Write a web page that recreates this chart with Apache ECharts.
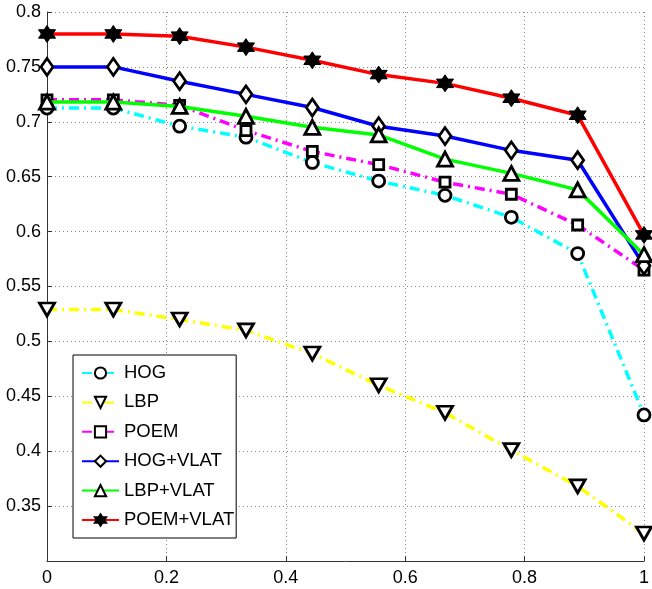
<!DOCTYPE html>
<html><head><meta charset="utf-8">
<script src="https://cdn.jsdelivr.net/npm/echarts@6/dist/echarts.min.js"></script>
<style>html,body{margin:0;padding:0;background:#fff}#c{width:652px;height:589px}</style>
</head><body><div id="c"></div>
<script>
const xValues = [0, 0.1111, 0.2222, 0.3333, 0.4444, 0.5556, 0.6667, 0.7778, 0.8889, 1];
const seriesNames = ['HOG', 'LBP', 'POEM', 'HOG+VLAT', 'LBP+VLAT', 'POEM+VLAT'];
const hog      = [0.7125, 0.7125, 0.696, 0.686, 0.663, 0.646, 0.633, 0.613, 0.580, 0.433];
const lbp      = [0.529, 0.529, 0.520, 0.510, 0.489, 0.460, 0.435, 0.401, 0.368, 0.325];
const poem     = [0.720, 0.720, 0.715, 0.692, 0.673, 0.661, 0.645, 0.634, 0.606, 0.565];
const hogVlat  = [0.750, 0.750, 0.737, 0.725, 0.713, 0.696, 0.687, 0.674, 0.665, 0.569];
const lbpVlat  = [0.718, 0.718, 0.714, 0.705, 0.695, 0.688, 0.666, 0.653, 0.638, 0.579];
const poemVlat = [0.780, 0.780, 0.778, 0.768, 0.756, 0.743, 0.735, 0.7215, 0.706, 0.597];
const xTicks = [0, 0.2, 0.4, 0.6, 0.8, 1];
const yTickLabels = ['0.35', '0.4', '0.45', '0.5', '0.55', '0.6', '0.65', '0.7', '0.75', '0.8'];

const allValues = [hog, lbp, poem, hogVlat, lbpVlat, poemVlat];
const colors = ['#00ffff', '#ffff00', '#ff00ff', '#0000ff', '#00ff00', '#ff0000'];
const dashDot = [10, 5, 2, 5];
const lineTypes = [dashDot, dashDot, dashDot, 'solid', 'solid', 'solid'];
const hexagram = 'path://M0,-10 L8.66,5 L-8.66,5 Z M0,10 L-8.66,-5 L8.66,-5 Z';
const downTri = 'path://M-8,-6 L8,-6 L0,8 Z';
const symbols = ['circle', downTri, 'rect', 'diamond', 'triangle', hexagram];
const sizes = [12, [15, 13], 10, [12, 17], [15, 14], 17];

const font = 'Liberation Sans, Arial, Helvetica, sans-serif';
const series = seriesNames.map((name, i) => ({
  name: name,
  type: 'line',
  data: xValues.map((x, j) => [x, allValues[i][j]]),
  symbol: symbols[i],
  symbolSize: sizes[i],
  showAllSymbol: true,
  lineStyle: { color: colors[i], width: 3.5, type: lineTypes[i] },
  itemStyle: {
    color: i === 5 ? '#000' : '#fff',
    borderColor: '#000',
    borderWidth: i === 5 ? 1 : 2.8
  },
  emphasis: { disabled: true },
  animation: false,
  z: 2 + i
}));

const chart = echarts.init(document.getElementById('c'), null, { renderer: 'canvas' });
chart.setOption({
  animation: false,
  backgroundColor: '#fff',
  textStyle: { fontFamily: font },
  grid: { left: 47, right: 5, top: 12, bottom: 28, containLabel: false },
  xAxis: {
    type: 'value', min: 0, max: 1, interval: 0.2,
    axisLine: { show: true, onZero: false, lineStyle: { color: '#333', width: 1 } },
    axisTick: { show: true, inside: true, length: 5, lineStyle: { color: '#333' } },
    axisLabel: {
      fontSize: 18, color: '#000', fontFamily: font, margin: 8,
      formatter: v => { const k = xTicks.findIndex(t => Math.abs(t - v) < 1e-6); return k >= 0 ? String(xTicks[k]) : ''; }
    },
    splitLine: { show: true, lineStyle: { color: '#888', type: [1, 3], width: 1 } }
  },
  yAxis: {
    type: 'value', min: 0.3, max: 0.8, interval: 0.05,
    axisLine: { show: true, onZero: false, lineStyle: { color: '#333', width: 1 } },
    axisTick: { show: true, inside: true, length: 5, lineStyle: { color: '#333' } },
    axisLabel: {
      fontSize: 18, color: '#000', fontFamily: font, margin: 6,
      formatter: v => { const k = yTickLabels.findIndex(t => Math.abs(parseFloat(t) - v) < 1e-6); return k >= 0 ? yTickLabels[k] : ''; }
    },
    splitLine: { show: true, lineStyle: { color: '#888', type: [1, 3], width: 1 } }
  },
  legend: {
    orient: 'vertical', left: 73, top: 355,
    backgroundColor: '#fff', borderColor: '#000', borderWidth: 1,
    padding: [8, 2, 8, 8],
    itemWidth: 37, itemHeight: 14, itemGap: 9.4, itemTextGap: 9,
    textStyle: { fontSize: 18.5, lineHeight: 20, color: '#000', fontFamily: font },
    data: seriesNames,
    selectedMode: false
  },
  series: series
});
</script></body></html>
